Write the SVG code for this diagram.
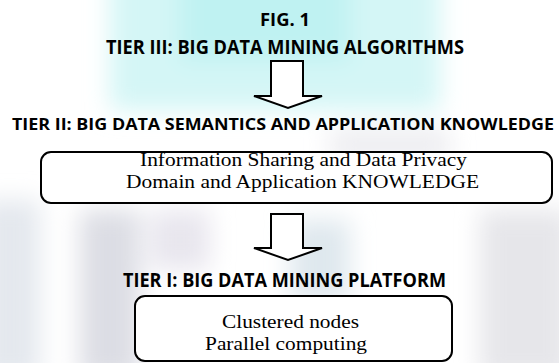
<svg xmlns="http://www.w3.org/2000/svg" width="559" height="363" viewBox="0 0 559 363">
<defs>
<filter id="blur" x="-50%" y="-50%" width="200%" height="200%"><feGaussianBlur stdDeviation="12"/></filter>
<style>
.tier{font-family:"Open Sans","Liberation Sans",Arial,sans-serif;font-weight:bold;font-size:19px;fill:#000}
.body{font-family:"Liberation Serif","Times New Roman",serif;font-size:19.5px;fill:#000}
.box{fill:#fff;stroke:#000;stroke-width:2}
.arrow{fill:#fff;stroke:#000;stroke-width:2;stroke-linejoin:miter}
</style>
</defs>
<rect width="559" height="363" fill="#fff"/>
<g id="background" filter="url(#blur)">
<rect x="110" y="-40" width="330" height="150" fill="#d4f6f6"/>
<rect x="180" y="-40" width="170" height="100" fill="#bff2f2"/>
<rect x="-20" y="200" width="60" height="180" fill="#e4e8ee"/>
<rect x="80" y="210" width="60" height="170" fill="#dcdde4"/>
<rect x="150" y="210" width="60" height="60" fill="#e8e6ee"/>
<rect x="290" y="220" width="60" height="80" fill="#dfe8ee"/>
<rect x="480" y="210" width="90" height="170" fill="#e6e6ea"/>
<rect x="330" y="130" width="120" height="30" fill="#ececf0"/>
</g>
<g id="connectors">
<polygon class="arrow" points="271,61 303,61 303,96 322,96 288,108 254,96 271,96"/>
<polygon class="arrow" points="271,214 303,214 303,248 322,248 288,260 254,248 271,248"/>
</g>
<g id="title">
<text class="tier" x="260" y="26" style="font-size:17px" textLength="50" lengthAdjust="spacingAndGlyphs">FIG. 1</text>
</g>
<g id="tier3">
<text class="tier" x="106" y="54" textLength="358" lengthAdjust="spacingAndGlyphs">TIER III: BIG DATA MINING ALGORITHMS</text>
</g>
<g id="tier2">
<text class="tier" x="12" y="130" style="font-size:16px" textLength="542" lengthAdjust="spacingAndGlyphs">TIER II: BIG DATA SEMANTICS AND APPLICATION KNOWLEDGE</text>
<rect class="box" x="41" y="152" width="511" height="51" rx="10"/>
<text class="body" x="140" y="166" textLength="327" lengthAdjust="spacingAndGlyphs">Information Sharing and Data Privacy</text>
<text class="body" x="126" y="188" textLength="353" lengthAdjust="spacingAndGlyphs">Domain and Application KNOWLEDGE</text>
</g>
<g id="tier1">
<text class="tier" x="123" y="287" textLength="323" lengthAdjust="spacingAndGlyphs">TIER I: BIG DATA MINING PLATFORM</text>
<rect class="box" x="135" y="296" width="317" height="65" rx="10"/>
<text class="body" x="222" y="328" textLength="137" lengthAdjust="spacingAndGlyphs">Clustered nodes</text>
<text class="body" x="205" y="350" textLength="162" lengthAdjust="spacingAndGlyphs">Parallel computing</text>
</g>
</svg>
